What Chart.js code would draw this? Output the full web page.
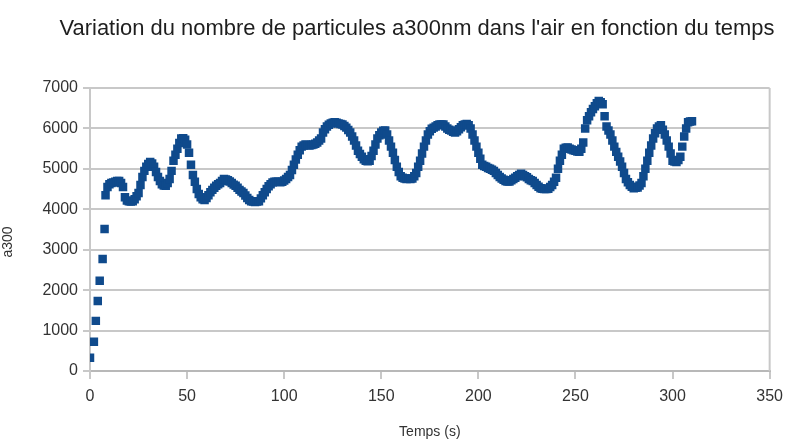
<!DOCTYPE html>
<html lang="fr">
<head>
<meta charset="utf-8">
<script src="https://cdn.jsdelivr.net/npm/chart.js@4.4.1/dist/chart.umd.min.js"></script>
<style>
  html, body { margin: 0; padding: 0; background: #fff; }
  #wrap { width: 791px; height: 441px; }
</style>
</head>
<body>
<div id="wrap"><canvas id="graphe" width="791" height="441"></canvas></div>
<script>
// Temps (s) et nombre de particules a300 (un point par seconde environ)
const temps = [0, 2, 3, 4, 5, 6.5, 7.5,
  8, 9, 10, 11, 12, 13, 14, 15, 16, 17,
  18, 19, 20, 21, 22, 23, 24, 25, 26, 27,
  28, 29, 30, 31, 32, 33, 34, 35, 36, 37,
  38, 39, 40, 41, 42, 43, 44, 45, 46, 47,
  48, 49, 50, 51, 52, 53, 54, 55, 56, 57,
  58, 59, 60, 61, 62, 63, 64, 65, 66, 67,
  68, 69, 70, 71, 72, 73, 74, 75, 76, 77,
  78, 79, 80, 81, 82, 83, 84, 85, 86, 87,
  88, 89, 90, 91, 92, 93, 94, 95, 96, 97,
  98, 99, 100, 101, 102, 103, 104, 105, 106, 107,
  108, 109, 110, 111, 112, 113, 114, 115, 116, 117,
  118, 119, 120, 121, 122, 123, 124, 125, 126, 127,
  128, 129, 130, 131, 132, 133, 134, 135, 136, 137,
  138, 139, 140, 141, 142, 143, 144, 145, 146, 147,
  148, 149, 150, 151, 152, 153, 154, 155, 156, 157,
  158, 159, 160, 161, 162, 163, 164, 165, 166, 167,
  168, 169, 170, 171, 172, 173, 174, 175, 176, 177,
  178, 179, 180, 181, 182, 183, 184, 185, 186, 187,
  188, 189, 190, 191, 192, 193, 194, 195, 196, 197,
  198, 199, 200, 201, 202, 203, 204, 205, 206, 207,
  208, 209, 210, 211, 212, 213, 214, 215, 216, 217,
  218, 219, 220, 221, 222, 223, 224, 225, 226, 227,
  228, 229, 230, 231, 232, 233, 234, 235, 236, 237,
  238, 239, 240, 241, 242, 243, 244, 245, 246, 247,
  248, 249, 250, 251, 252, 253, 254, 255, 256, 257,
  258, 259, 260, 261, 262, 263, 264, 265, 266, 267,
  268, 269, 270, 271, 272, 273, 274, 275, 276, 277,
  278, 279, 280, 281, 282, 283, 284, 285, 286, 287,
  288, 289, 290, 291, 292, 293, 294, 295, 296, 297,
  298, 299, 300, 301, 302, 303, 304, 305, 306, 307,
  308, 309, 310];
const a300 = [330, 725, 1240, 1730, 2230, 2770, 3510,
  4350, 4550, 4620, 4650, 4660, 4680, 4700, 4700, 4650, 4550,
  4300, 4220, 4200, 4190, 4200, 4250, 4320, 4400, 4600, 4800,
  4950, 5050, 5120, 5170, 5130, 5050, 4920, 4800, 4700, 4620,
  4590, 4580, 4650, 4750, 4950, 5200, 5350, 5500, 5640, 5750,
  5760, 5720, 5600, 5400, 5100, 4850, 4680, 4500, 4380, 4300,
  4250, 4230, 4280, 4350, 4420, 4480, 4530, 4580, 4620, 4650,
  4700, 4750, 4740, 4720, 4690, 4650, 4610, 4580, 4530, 4480,
  4440, 4400, 4340, 4280, 4230, 4200, 4190, 4180, 4190, 4200,
  4270, 4350, 4420, 4500, 4570, 4620, 4660, 4680, 4680, 4680,
  4670, 4680, 4710, 4750, 4800, 4850, 4970, 5100, 5230, 5350,
  5460, 5550, 5580, 5600, 5590, 5580, 5590, 5600, 5620, 5650,
  5700, 5750, 5900, 5980, 6050, 6090, 6120, 6140, 6150, 6140,
  6120, 6110, 6100, 6060, 6020, 5960, 5900, 5800, 5700, 5580,
  5450, 5370, 5300, 5240, 5200, 5190, 5200, 5320, 5450, 5600,
  5750, 5830, 5900, 5940, 5950, 5850, 5700, 5550, 5400, 5220,
  5050, 4920, 4820, 4780, 4760, 4750, 4760, 4750, 4760, 4820,
  4900, 5050, 5200, 5380, 5550, 5700, 5850, 5930, 5990, 6020,
  6050, 6080, 6100, 6100, 6100, 6050, 6000, 5970, 5950, 5920,
  5900, 5930, 5980, 6030, 6080, 6100, 6110, 6080, 6000, 5850,
  5700, 5550, 5400, 5250, 5100, 5070, 5050, 5020, 5000, 4980,
  4950, 4900, 4850, 4800, 4760, 4730, 4700, 4690, 4690, 4720,
  4750, 4780, 4820, 4850, 4880, 4850, 4820, 4790, 4750, 4720,
  4700, 4650, 4600, 4560, 4520, 4510, 4500, 4500, 4510, 4550,
  4600, 4680, 4780, 5000, 5200, 5350, 5500, 5520, 5530, 5500,
  5480, 5460, 5450, 5430, 5420, 5500, 5650, 6000, 6200, 6300,
  6400, 6480, 6550, 6620, 6680, 6650, 6600, 6300, 6050, 5950,
  5850, 5700, 5550, 5420, 5300, 5180, 5050, 4900, 4750, 4670,
  4600, 4560, 4520, 4530, 4540, 4590, 4650, 4820, 5000, 5200,
  5400, 5580, 5750, 5880, 6000, 6050, 6080, 5970, 5850, 5700,
  5550, 5380, 5200, 5180, 5170, 5220, 5300, 5550, 5800, 6000,
  6150, 6170, 6180];

const titre = "Variation du nombre de particules a300nm dans l'air en fonction du temps";
const titreX = 'Temps (s)';
const titreY = 'a300';

const police = "'Liberation Sans', Arial, sans-serif";
const gris = '#c8c8c8';

// titres + bord droit du cadre
const titresPlugin = {
  id: 'titres',
  afterDraw(chart) {
    const ctx = chart.ctx;
    const area = chart.chartArea;
    ctx.save();
    ctx.strokeStyle = gris;
    ctx.lineWidth = 2;
    ctx.beginPath();
    ctx.moveTo(area.right, area.top);
    ctx.lineTo(area.right, area.bottom);
    ctx.stroke();

    ctx.fillStyle = '#1e1e1e';
    ctx.textAlign = 'center';
    ctx.textBaseline = 'middle';

    // le titre de la référence est plus étroit : on le resserre sur ~715 px
    ctx.save();
    ctx.font = '22px ' + police;
    const w = ctx.measureText(titre).width;
    ctx.translate(417, 29);
    ctx.scale(Math.min(1, 715 / w), 1);
    ctx.fillText(titre, 0, 0);
    ctx.restore();

    ctx.font = '14px ' + police;
    ctx.fillStyle = '#333';
    ctx.fillText(titreX, (area.left + area.right) / 2, 432);

    ctx.translate(8, 242);
    ctx.rotate(-Math.PI / 2);
    ctx.fillText(titreY, 0, 0);
    ctx.restore();
  }
};

const points = temps.map((t, i) => ({ x: t, y: a300[i] }));

new Chart(document.getElementById('graphe'), {
  type: 'scatter',
  data: {
    datasets: [{
      label: titreY,
      data: points,
      pointStyle: 'rect',
      pointRadius: 6,
      pointHoverRadius: 6,
      backgroundColor: '#0f4a8c',
      borderColor: '#0f4a8c',
      borderWidth: 0
    }]
  },
  options: {
    responsive: false,
    animation: false,
    layout: { padding: { top: 88, right: 16, bottom: 0, left: 0 } },
    plugins: { legend: { display: false }, title: { display: false }, tooltip: { enabled: false } },
    scales: {
      x: {
        type: 'linear',
        min: 0, max: 350,
        afterFit: (s) => { s.height = 70; },
        ticks: { stepSize: 50, color: '#333', padding: 8, font: { family: police, size: 16 },
          callback: (v) => String(v) },
        grid: { drawOnChartArea: false, tickLength: 8, color: gris, lineWidth: 2 },
        border: { color: '#b8b8b8', width: 2 }
      },
      y: {
        min: 0, max: 7000,
        afterFit: (s) => { s.width = 90; },
        ticks: { stepSize: 1000, color: '#333', padding: 5, font: { family: police, size: 16 },
          callback: (v) => String(v) },
        grid: { color: gris, lineWidth: 2, tickLength: 7 },
        border: { color: gris, width: 2 }
      }
    }
  },
  plugins: [titresPlugin]
});
</script>
</body>
</html>
